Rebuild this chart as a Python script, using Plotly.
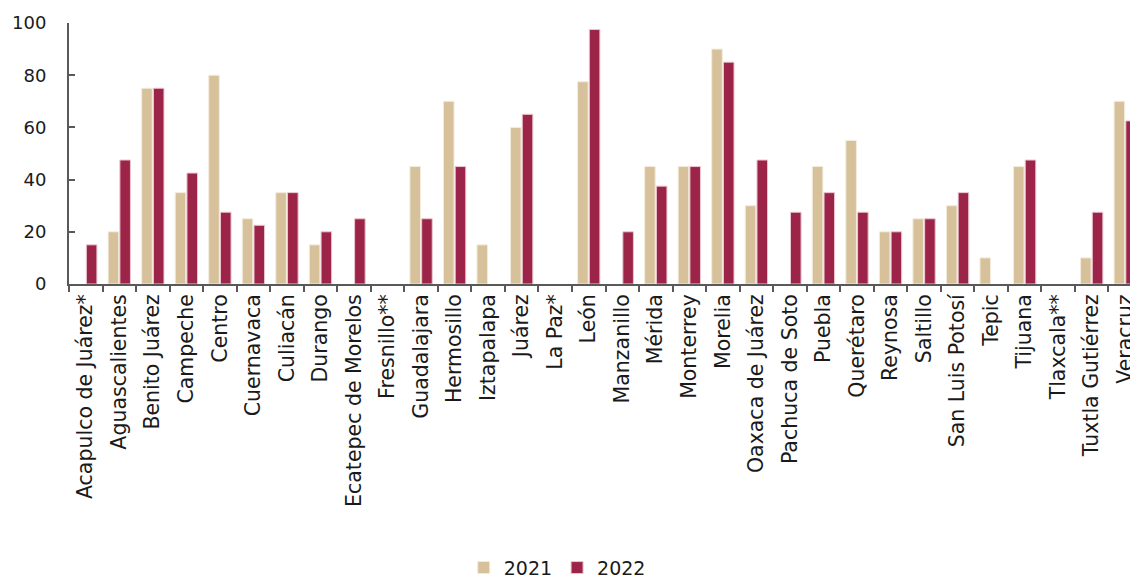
import plotly.graph_objects as go

categories = ["Acapulco de Juárez*", "Aguascalientes", "Benito Juárez", "Campeche", "Centro",
              "Cuernavaca", "Culiacán", "Durango", "Ecatepec de Morelos", "Fresnillo**",
              "Guadalajara", "Hermosillo", "Iztapalapa", "Juárez", "La Paz*", "León",
              "Manzanillo", "Mérida", "Monterrey", "Morelia", "Oaxaca de Juárez",
              "Pachuca de Soto", "Puebla", "Querétaro", "Reynosa", "Saltillo",
              "San Luis Potosí", "Tepic", "Tijuana", "Tlaxcala**", "Tuxtla Gutiérrez", "Veracruz"]
values_2021 = [0, 20, 75, 35, 80, 25, 35, 15, 0, 0, 45, 70, 15, 60, 0, 77.5,
               0, 45, 45, 90, 30, 0, 45, 55, 20, 25, 30, 10, 45, 0, 10, 70]
values_2022 = [15, 47.5, 75, 42.5, 27.5, 22.5, 35, 20, 25, 0, 25, 45, 0, 65, 0, 97.5,
               20, 37.5, 45, 85, 47.5, 27.5, 35, 27.5, 20, 25, 35, 0, 47.5, 0, 27.5, 62.5]
y_ticks = [0, 20, 40, 60, 80, 100]

FONT = "DejaVu Sans"


def nz(vals):
    # zero values draw no bar at all
    return [v if v else None for v in vals]


fig = go.Figure()
fig.add_trace(go.Bar(x=categories, y=nz(values_2021), name="2021",
                     marker=dict(color="#D6C19B", line=dict(color="#F3ECDD", width=1))))
fig.add_trace(go.Bar(x=categories, y=nz(values_2022), name="2022",
                     marker=dict(color="#9D2449", line=dict(color="#E9C6D0", width=1))))

fig.update_layout(
    width=1138, height=583,
    margin=dict(l=58, r=4, t=13, b=306),
    paper_bgcolor="white", plot_bgcolor="white",
    barmode="group", bargap=0.3, bargroupgap=0.1,
    font=dict(family=FONT, size=18, color="#1a1a1a"),
    legend=dict(orientation="h", x=0.455, xanchor="center", y=-1.087, yanchor="middle",
                font=dict(size=19), itemwidth=30, traceorder="normal"),
    showlegend=True,
)
fig.update_xaxes(
    tickangle=-90, showline=True, linecolor="#595959", linewidth=2,
    ticks="outside", ticklen=6, tickcolor="#595959", tickwidth=2,
    tickson="boundaries", showgrid=False, tickfont=dict(size=20.5),
)
fig.update_yaxes(
    range=[0, 100], tickvals=y_ticks, showline=True, linecolor="#595959", linewidth=2,
    ticks="inside", ticklen=6, tickcolor="#595959", tickwidth=2, ticklabelstandoff=17,
    showgrid=False, zeroline=False, tickfont=dict(size=18),
)
fig.write_html("out.html")
